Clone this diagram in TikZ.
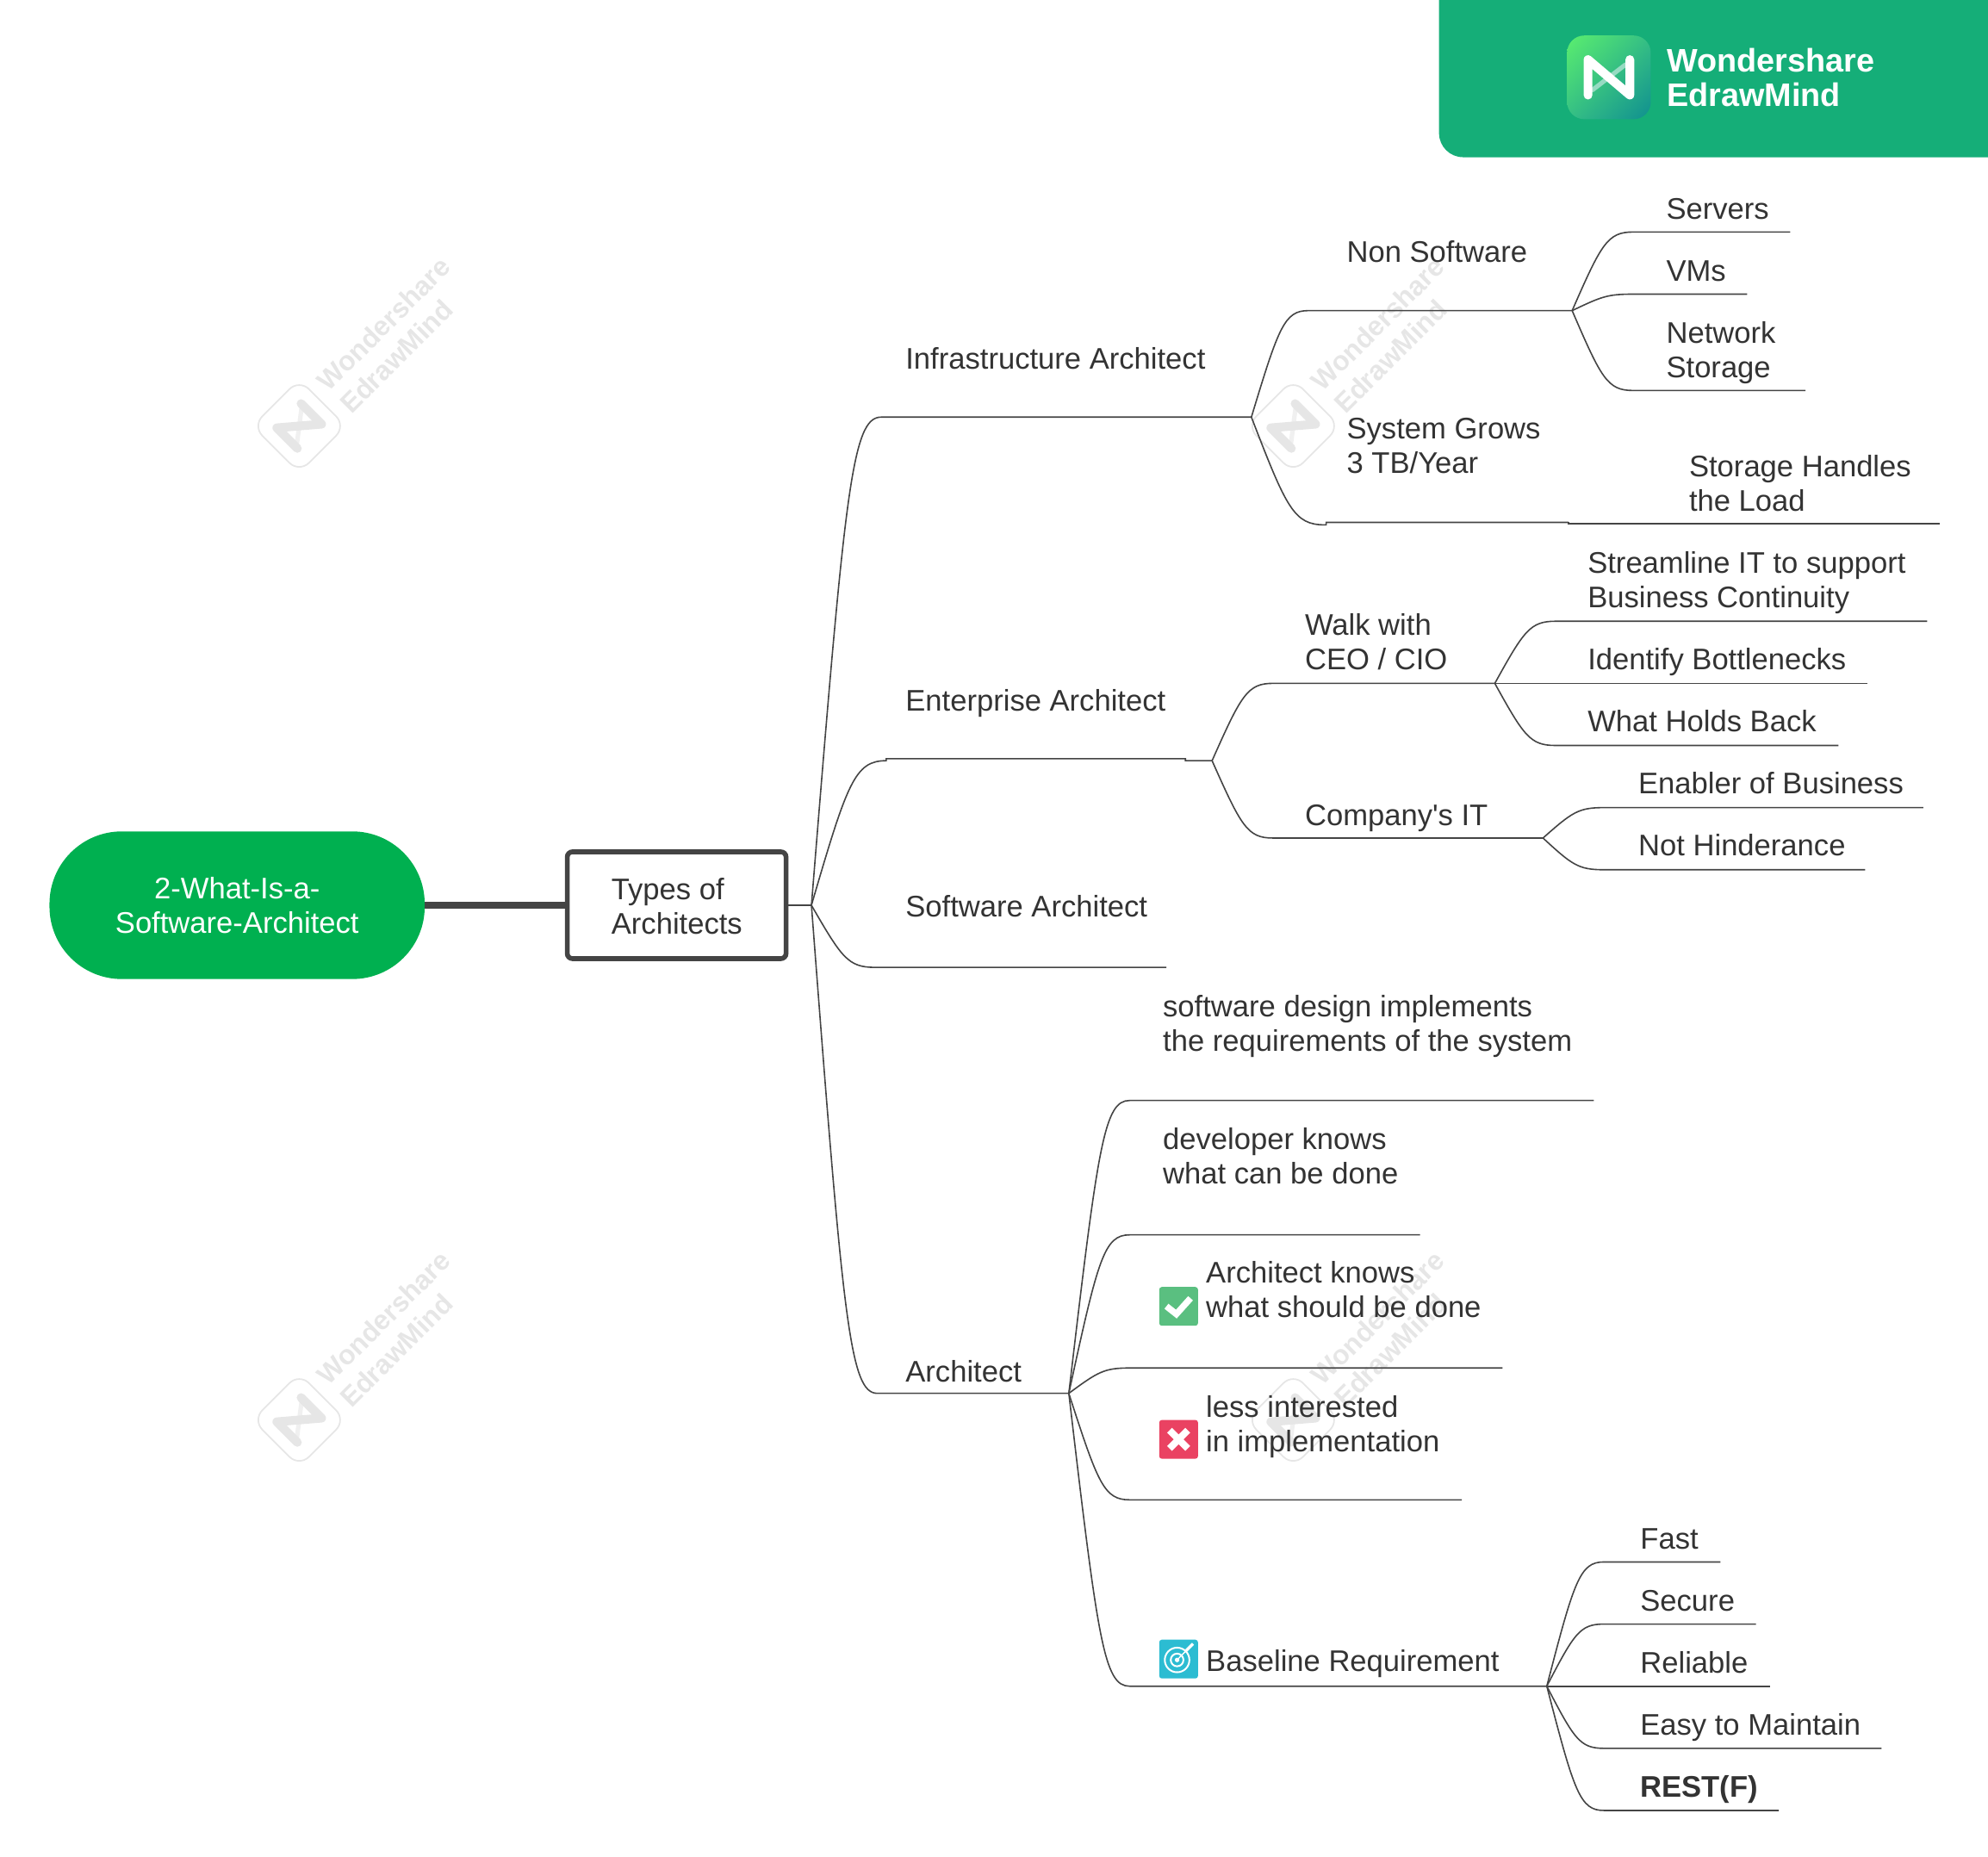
\documentclass[tikz,border=0pt]{standalone}
\usepackage{fontspec}
\setmainfont{Liberation Sans}
\newfontfamily\straightfont{Liberation Sans}
\usetikzlibrary{calc,shadings}
\definecolor{rootgreen}{HTML}{00B050}
\definecolor{bannergreen}{HTML}{15AE78}
\definecolor{linegrey}{HTML}{444444}
\definecolor{textgrey}{HTML}{333333}
\definecolor{markgrey}{HTML}{E6E6E6}
\definecolor{logolight}{HTML}{5BEF6E}
\definecolor{logomid}{HTML}{35BF85}
\definecolor{logodark}{HTML}{0F8F90}
\definecolor{okgreen}{HTML}{5ABF80}
\definecolor{nored}{HTML}{EA4262}
\definecolor{goalcyan}{HTML}{2CBCD2}
\newcommand{\logomark}[2]{%
	\draw[#2, line width=2.6pt, line cap=round] (-13,10) -- (13,-10);
	\draw[#1, line width=5.1pt, line cap=round, line join=round] (-16.5,14) -- (-16.5,-14) -- (16.5,14) -- (16.5,-14);
}
\tikzset{
	txt/.style={anchor=base west, inner sep=0pt, align=left, text=textgrey, font=\fontsize{17.3}{20}\selectfont},
	branch/.style={draw=linegrey, line width=0.8pt},
	limb/.style={to path={let \p1=(\tikztostart), \p2=(\tikztotarget), \n1={#1*0.73597pt} in
		.. controls ({\x1+0.48*\n1},{\y1+0.85*(\y2-\y1)}) and ({\x1+0.58*\n1},{\y2}) .. ({\x1+\n1},{\y2}) -- (\tikztotarget)}},
	limb/.default=48,
	tag/.style={minimum size=22.5pt, inner sep=0pt, rounded corners=1.5pt},
	wmark/.style={anchor=base west, inner sep=0pt, align=left, text=markgrey, transform shape, font=\fontsize{15.9}{18.5}\selectfont\bfseries},
}
\begin{document}
\begin{tikzpicture}[x=0.73597pt, y=-0.73597pt]
	\useasboundingbox (0,0) rectangle (1568,1464.7);
	% watermarks
	\foreach \wx/\wy in {236/336, 1020/336, 236/1120, 1020/1120} {
		\begin{scope}[shift={(\wx,\wy)}, rotate=45]
			\draw[markgrey, line width=0.9pt, rounded corners=8pt] (-26,-26) rectangle (26,26);
			\begin{scope}[scale=0.82]
				\logomark{markgrey}{markgrey!60}
			\end{scope}
			\node[wmark] at (35,23) {Wondershare\\EdrawMind};
		\end{scope}
	}
	% banner
	\fill[bannergreen] (1568,0) -- (1568,124) [rounded corners=14pt] -- (1135,124) [sharp corners] -- (1135,0) -- cycle;
	\shade[rounded corners=10pt, upper left=logolight, upper right=logomid, lower left=logomid, lower right=logodark] (1236,28) rectangle (1302,94);
	\begin{scope}[shift={(1269,61)}]
		\logomark{white}{white!55!bannergreen}
	\end{scope}
	\node[anchor=base west, inner sep=0pt, align=left, text=white, font=\fontsize{18.9}{20}\selectfont\bfseries] (brand) at (1314.5,84) {Wondershare\\EdrawMind};

	% centre
	\node[fill=rootgreen, minimum width=217.8pt, minimum height=85.7pt, rounded corners=42pt, inner sep=0pt, align=center, text=white, font=\fontsize{17.3}{20}\selectfont] (root) at (187,714) {2-What-Is-a-\\Software-Architect};
	\node[draw=linegrey, line width=2.8pt, fill=white, minimum width=127pt, minimum height=62pt, rounded corners=3pt, inner sep=0pt] (types) at (533.7,714) {};
	\node[txt] (typesText) at (482,737) {Types of\\Architects};
	\draw[linegrey, line width=4pt] (root) -- (types);

	% hubs
	\coordinate (hubA) at (640,714);
	\coordinate (hubB) at (987,329);
	\coordinate (hubC) at (956,600);
	\coordinate (hubD) at (843,1099);
	\coordinate (hubE) at (1240,245);
	\coordinate (hubF) at (1237,412);
	\coordinate (hubG) at (1179,539);
	\coordinate (hubH) at (1217,661);
	\coordinate (hubJ) at (1220,1330);
	% free ends
	\coordinate (enterLeft) at (699,600);
	\coordinate (enterRight) at (935,598.4);
	\coordinate (growsEnd) at (1046,414);
	\coordinate (softEnd) at (920,763);
	\coordinate (serversEnd) at (1412,183);
	\coordinate (vmsEnd) at (1378,232);
	\coordinate (netEnd) at (1424,308);
	\coordinate (loadEnd) at (1530,413);
	\coordinate (streamEnd) at (1520,490);
	\coordinate (bottleEnd) at (1473,539);
	\coordinate (holdsEnd) at (1450,588);
	\coordinate (enablerEnd) at (1517,637);
	\coordinate (hinderEnd) at (1471,686);
	\coordinate (designEnd) at (1257,868);
	\coordinate (devEnd) at (1120,974);
	\coordinate (knowsEnd) at (1185,1079);
	\coordinate (lessEnd) at (1153,1183);
	\coordinate (fastEnd) at (1357,1232);
	\coordinate (secureEnd) at (1385,1281);
	\coordinate (reliableEnd) at (1396,1330);
	\coordinate (easyEnd) at (1484,1379);
	\coordinate (restEnd) at (1403,1428);

	% first level
	\draw[branch] (types) -- (hubA);
	\draw[branch] (hubA) to[limb=55] (hubB);
	\draw[branch] (hubA) to[limb=59] (enterLeft) |- (enterRight) |- (hubC);
	\draw[branch] (hubA) to[limb=50] (softEnd);
	\draw[branch] (hubA) to[limb=52] (hubD);
	% second level
	\draw[branch] (hubB) to[limb=45] (hubE);
	\draw[branch] (hubB) to[limb=58] (growsEnd) |- (hubF);
	\draw[branch] (hubC) to[limb] (hubG);
	\draw[branch] (hubC) to[limb] (hubH);
	\draw[branch] (hubD) to[limb] (designEnd);
	\draw[branch] (hubD) to[limb] (devEnd);
	\draw[branch] (hubD) to[limb] (knowsEnd);
	\draw[branch] (hubD) to[limb] (lessEnd);
	\draw[branch] (hubD) to[limb] (hubJ);
	% third level
	\draw[branch] (hubE) to[limb] (serversEnd);
	\draw[branch] (hubE) to[limb] (vmsEnd);
	\draw[branch] (hubE) to[limb] (netEnd);
	\draw[branch] (hubF) |- (loadEnd);
	\draw[branch] (hubG) to[limb] (streamEnd);
	\draw[branch] (hubG) -- (bottleEnd);
	\draw[branch] (hubG) to[limb] (holdsEnd);
	\draw[branch] (hubH) to[limb] (enablerEnd);
	\draw[branch] (hubH) to[limb] (hinderEnd);
	\draw[branch] (hubJ) to[limb=45] (fastEnd);
	\draw[branch] (hubJ) to[limb=45] (secureEnd);
	\draw[branch] (hubJ) -- (reliableEnd);
	\draw[branch] (hubJ) to[limb=45] (easyEnd);
	\draw[branch] (hubJ) to[limb=45] (restEnd);

	% labels
	\node[txt] (infra) at (714,291) {Infrastructure Architect};
	\node[txt] (enterprise) at (714,561) {Enterprise Architect};
	\node[txt] (software) at (714,723) {Software Architect};
	\node[txt] (architect) at (714,1090) {Architect};
	\node[txt] (nonsoft) at (1062,207) {Non Software};
	\node[txt] (grows) at (1062,373.5) {System Grows\\3 TB/Year};
	\node[txt] (servers) at (1314,173) {Servers};
	\node[txt] (vms) at (1314,222) {VMs};
	\node[txt] (network) at (1314,298) {Network\\Storage};
	\node[txt] (load) at (1332,403) {Storage Handles\\the Load};
	\node[txt] (walk) at (1029,528) {Walk with\\CEO / CIO};
	\node[txt] (company) at (1029,651) {Company{\straightfont'}s IT};
	\node[txt] (stream) at (1252,479) {Streamline IT to support\\Business Continuity};
	\node[txt] (bottle) at (1252,528) {Identify Bottlenecks};
	\node[txt] (holds) at (1252,577) {What Holds Back};
	\node[txt] (enabler) at (1292,626) {Enabler of Business};
	\node[txt] (hinder) at (1292,675) {Not Hinderance};
	\node[txt] (design) at (917,829) {software design implements\\the requirements of the system};
	\node[txt] (dev) at (917,934) {developer knows\\what can be done};
	\node[txt] (knows) at (951,1039) {Architect knows\\what should be done};
	\node[txt] (less) at (951,1145) {less interested\\in implementation};
	\node[txt] (baseline) at (951,1318.5) {Baseline Requirement};
	\node[txt] (fast) at (1293.5,1222) {Fast};
	\node[txt] (secure) at (1293.5,1271) {Secure};
	\node[txt] (reliable) at (1293.5,1319.5) {Reliable};
	\node[txt] (easy) at (1293.5,1368.5) {Easy to Maintain};
	\node[txt, font=\fontsize{17.3}{20}\selectfont\bfseries] (rest) at (1293.5,1417.5) {REST(F)};

	% icons
	\node[tag, fill=okgreen] (okTag) at (929.6,1030.4) {};
	\draw[white, line width=3.7pt] (920,1030.3) -- (927.8,1036.5) -- (939,1024);
	\node[tag, fill=nored] (noTag) at (929.6,1135.3) {};
	\draw[white, line width=4pt] (922.4,1128.1) -- (936.8,1142.5) (936.8,1128.1) -- (922.4,1142.5);
	\node[tag, fill=goalcyan] (goalTag) at (929.6,1308.6) {};
	\draw[white, line width=1pt] (928.4,1309.3) circle (9.7) circle (5);
	\fill[white] (928.4,1309.3) circle (1.8);
	\draw[white, line width=0.7pt] (928.4,1309.3) -- (936,1301.5);
	\draw[white, line width=1.6pt] (935.5,1302) -- (941,1296.5);
\end{tikzpicture}
\end{document}
